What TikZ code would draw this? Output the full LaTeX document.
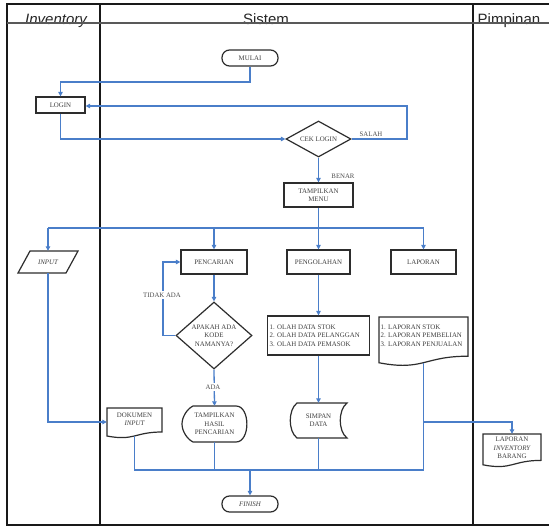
\documentclass[tikz,border=0pt]{standalone}
\usepackage{fontspec}
\setmainfont{Liberation Serif}
\newfontfamily\hdrfont{Liberation Sans}
\usetikzlibrary{arrows.meta,shapes.geometric,calc}
\definecolor{flowc}{RGB}{74,126,201}
\definecolor{edgec}{RGB}{45,45,45}
\newcommand\DocPath[4]{%
  \draw[shp] (#1,#2) -- (#3,#2) -- (#3,{#2+0.8*#4})
    .. controls ({(#1+#3)/2},{#2+0.8*#4}) and ({(#1+#3)/2},{#2+1.107*#4}) ..
    (#1,{#2+0.934*#4}) -- cycle;}
\begin{document}
\begin{tikzpicture}[x=1pt,y=-1pt,
  shp/.style={draw=edgec,line width=1.2pt,fill=white},
  txt/.style={inner sep=0pt,font=\fontsize{6.9}{8.4}\selectfont,text=black!75,align=center},
  boxn/.style={shp,txt,rectangle},
  term/.style={shp,txt,rectangle,rounded corners=7.5pt,minimum width=56pt,minimum height=16pt},
  dmd/.style={shp,diamond,inner sep=0pt},
  fl/.style={draw=flowc,line width=1.3pt},
  arr/.style={fl,-{Triangle[length=4.5pt,width=4.5pt]}},
  lab/.style={inner sep=1.5pt,fill=white,font=\fontsize{6.8}{8}\selectfont,text=black!70},
  hdr/.style={anchor=base,inner sep=0pt,font=\hdrfont\fontsize{15}{15}\selectfont,text=black!85},
  lane/.style={draw=black!90,line width=1.2pt}
]
\useasboundingbox (0,0) rectangle (549,527);
% frame and lanes
\draw[lane] (560,4) -- (7,4) -- (7,525) -- (560,525);
\draw[lane] (100,4) -- (100,525);
\draw[lane] (473,4) -- (473,525);
\node[hdr] (h1) at (56,25) {\itshape Inventory};
\node[hdr] (h2) at (266,25) {Sistem};
\node[hdr] (h3) at (509,25) {Pimpinan};
\draw[draw=black!65,line width=1.4pt] (7,23) -- (560,23);

% standard nodes
\node[term] (mulai) at (250,58) {MULAI};
\node[boxn,minimum width=49pt,minimum height=16pt] (login) at (60.5,105) {LOGIN};
\node[dmd,minimum width=65pt,minimum height=36pt] (cek) at (318.5,139) {};
\node[txt] at (cek) {CEK LOGIN};
\node[boxn,minimum width=69pt,minimum height=24pt] (menu) at (318.5,195) {TAMPILKAN\\MENU};
\node[boxn,minimum width=66pt,minimum height=24pt] (pencarian) at (214,262) {PENCARIAN};
\node[boxn,minimum width=63pt,minimum height=24pt] (pengolahan) at (318.5,262) {PENGOLAHAN};
\node[boxn,minimum width=65pt,minimum height=24pt] (laporan) at (423.5,262) {LAPORAN};
\node[dmd,minimum width=76pt,minimum height=67pt] (apakah) at (214,335.5) {};
\node[txt] at (apakah) {APAKAH ADA\\KODE\\NAMANYA?};
\node[boxn,minimum width=102pt,minimum height=39pt] (olah) at (318.5,335.5) {};
\node[txt,align=left,anchor=west] at (269.5,335.5) {1. OLAH DATA STOK\\2. OLAH DATA PELANGGAN\\3. OLAH DATA PEMASOK};
\node[term] (finish) at (250,504) {\itshape FINISH};

% input parallelogram
\draw[shp] (30,251) -- (78,251) -- (66,273) -- (18,273) -- cycle;
\node[txt,minimum width=60pt,minimum height=22pt] (input) at (48,262) {\itshape INPUT};

% documents
\DocPath{379}{317}{468}{49}
\node[txt,minimum width=89pt,minimum height=45.6pt] (lapdoc) at (423.5,339.8) {};
\node[txt,align=left,anchor=west] at (380.5,335.5) {1. LAPORAN STOK\\2. LAPORAN PEMBELIAN\\3. LAPORAN PENJUALAN};

\DocPath{107}{408}{162}{30}
\node[txt,minimum width=55pt,minimum height=28pt] (dok) at (134.5,422) {};
\node[txt] at (134.5,419) {DOKUMEN\\\itshape INPUT};

\DocPath{483}{434}{541}{33}
\node[txt,minimum width=58pt,minimum height=33pt] (lapinv) at (512,450.5) {};
\node[txt] at (512,448) {LAPORAN\\\itshape INVENTORY\\BARANG};

% display shape
\draw[shp] (193,406) -- (236,406) .. controls (250.5,406) and (250.5,442) .. (236,442) -- (193,442)
  .. controls (187,439) and (182,431) .. (182,424) .. controls (182,417) and (187,409) .. cycle;
\node[txt,minimum width=65pt,minimum height=36pt] (hasil) at (214.5,424) {TAMPILKAN\\HASIL\\PENCARIAN};

% stored data shape
\draw[shp] (297,403) -- (347,403) .. controls (338,410) and (338,431) .. (347,438) -- (297,438)
  .. controls (288,431) and (288,410) .. cycle;
\node[txt,minimum width=57pt,minimum height=35pt] (simpan) at (318.5,420.5) {SIMPAN\\DATA};

% connectors
\coordinate (c1) at (250,82);
\draw[arr] (mulai.south) -- (c1) -| (login.north);
\draw[arr] (login.south) |- (cek.west);
\coordinate (c2) at (407,106);
\draw[arr] (cek.east) -| (c2) -- (login.east |- c2);
\draw[arr] (cek.south) -- (menu.north);
\coordinate (mbus) at (318.5,228);
\draw[fl] (menu.south) -- (mbus);
\draw[fl] (input.north |- mbus) -- (laporan.north |- mbus);
\draw[arr] (input.north |- mbus) -- (input.north);
\draw[arr] (pencarian.north |- mbus) -- (pencarian.north);
\draw[arr] (pengolahan.north |- mbus) -- (pengolahan.north);
\draw[arr] (laporan.north |- mbus) -- (laporan.north);
\draw[arr] (input.south) |- (dok.west);
\draw[arr] (pencarian.south) -- (apakah.north);
\coordinate (c3) at (163,335.5);
\draw[arr] (apakah.west) -- (c3) |- (pencarian.west);
\draw[arr] (apakah.south) -- (hasil.north);
\draw[arr] (pengolahan.south) -- (olah.north);
\draw[arr] (olah.south) -- (simpan.north);
\coordinate (bus) at (250,470);
\draw[fl] (dok.south) -- (dok.south |- bus) -- (lapdoc.south |- bus) -- (lapdoc.south);
\draw[fl] (hasil.south) -- (hasil.south |- bus);
\draw[fl] (simpan.south) -- (simpan.south |- bus);
\draw[arr,line width=1.6pt] (bus) -- (finish.north);
\draw[arr] (lapdoc.south |- dok.west) -| (lapinv.north);

% labels
\node[lab] (salah) at (371,134) {SALAH};
\node[lab] (benar) at (343,176) {BENAR};
\node[lab] (tidak) at (162,295) {TIDAK ADA};
\node[lab] (ada) at (213,387) {ADA};
\end{tikzpicture}
\end{document}
